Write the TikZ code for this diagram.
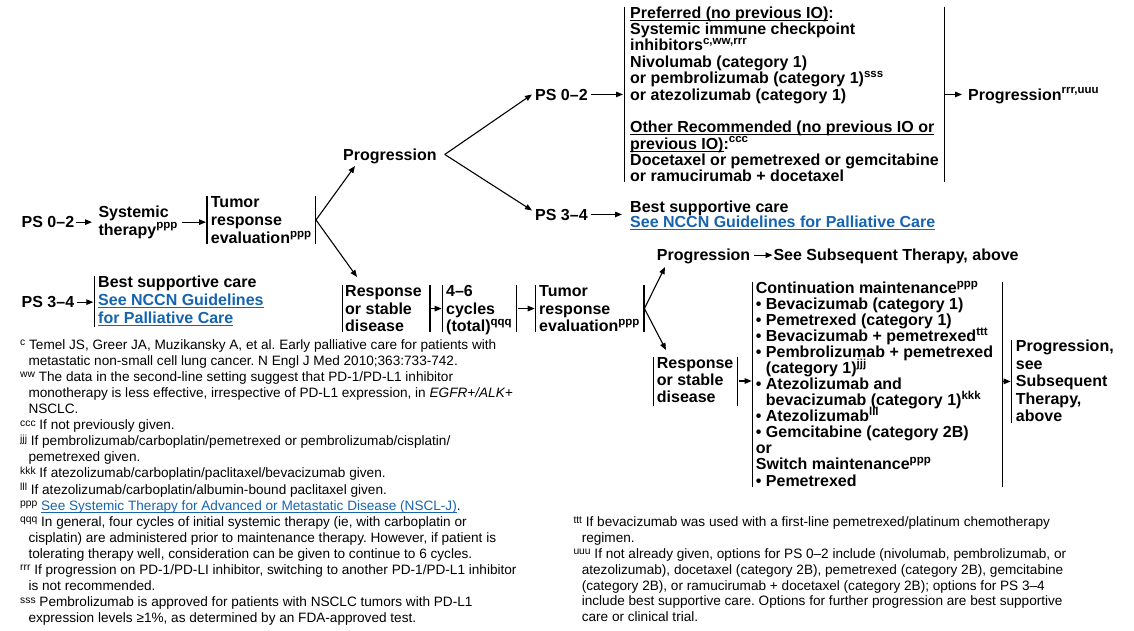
\documentclass[tikz,border=0pt]{standalone}
\usepackage{fontspec}
\setmainfont{Liberation Sans}
\usetikzlibrary{arrows.meta}
\definecolor{nccnblue}{RGB}{22,100,176}
\frenchspacing
\newcommand{\blk}[2]{\vtop{\baselineskip=#1\lineskiplimit=-100pt\lineskip=0pt\tabskip=0pt\halign{##\hfil\cr#2\crcr}}}
\newcommand{\ul}[1]{\begingroup\setbox0=\hbox{#1}\rlap{\vrule height -1.5pt depth 2.7pt width \wd0}\box0\endgroup}
\newcommand{\lnk}[1]{\textcolor{nccnblue}{\ul{#1}}}
\newcommand{\sps}[1]{\raisebox{6.3pt}[0pt][0pt]{\fontsize{11.5}{12}\selectfont #1}}
\newcommand{\fm}[1]{\raisebox{3.5pt}[0pt][0pt]{\fontsize{10.3}{10}\selectfont #1}}
\newcommand{\lbar}[2]{\draw[bar] ([xshift=-#2]#1.north west) -- ([xshift=-#2]#1.south west);}
\newcommand{\rbar}[2]{\draw[bar] ([xshift=#2]#1.north east) -- ([xshift=#2]#1.south east);}
\tikzset{
  txt/.style={inner sep=0pt, anchor=base west},
  bt/.style={txt, font=\fontsize{16}{16.1}\selectfont\bfseries, text height=11.6pt, text depth=0.5pt},
  fn/.style={txt, font=\fontsize{13.6}{16.1}\selectfont},
  bar/.style={line width=1.5pt},
  arr/.style={line width=1.1pt, -{Triangle[length=7pt,width=5.5pt]}},
}
\begin{document}
\begin{tikzpicture}[x=1pt,y=-1pt]
\fill[white] (0,0) rectangle (1134,630);
\useasboundingbox (0,0) rectangle (1134,630);

% left column
\node[bt] (ps1) at (21.5,227.7) {PS 0–2};
\node[bt, text depth=18pt] (sys) at (98.3,217.5) {\blk{17.5pt}{Systemic\cr therapy\sps{ppp}}};
\node[bt, text depth=36.9pt] (tum1) at (210.7,207.3) {\blk{18.2pt}{Tumor\cr response\cr evaluation\sps{ppp}}};
\node[bt] (ps2) at (21.5,307.7) {PS 3–4};
\node[bt, text depth=39pt] (bsc1) at (98,287.3) {\blk{18.2pt}{Best supportive care\cr \lnk{See NCCN Guidelines}\cr \lnk{for Palliative Care}}};

% progression branch
\node[bt] (prog1) at (343,160) {Progression};
\node[bt] (ps3) at (535,100) {PS 0–2};
\node[bt] (ps4) at (535,220) {PS 3–4};
\node[bt, text depth=163.9pt] (pref) at (630,18.3) {\blk{16.34pt}{\ul{Preferred (no previous IO)}:\cr
Systemic immune checkpoint\cr
inhibitors\sps{c,ww,rrr}\cr
Nivolumab (category 1)\cr
or pembrolizumab (category 1)\sps{sss}\cr
or atezolizumab (category 1)\cr
\cr
\ul{Other Recommended (no previous IO or}\cr
\ul{previous IO)}:\sps{ccc}\cr
Docetaxel or pemetrexed or gemcitabine\cr
or ramucirumab + docetaxel}};
\node[bt] (prog2) at (968,100) {Progression\sps{rrr,uuu}};
\node[bt, text depth=15.5pt] (bsc2) at (630,212.3) {\blk{15pt}{Best supportive care\cr \lnk{See NCCN Guidelines for Palliative Care}}};

% response branch
\node[bt, text depth=35.3pt] (resp1) at (345,296.7) {\blk{17.4pt}{Response\cr or stable\cr disease}};
\node[bt, text depth=35.3pt] (cyc) at (446,296.7) {\blk{17.4pt}{4–6\cr cycles\cr (total)\sps{qqq}}};
\node[bt, text depth=35.3pt] (tum2) at (539,296.7) {\blk{17.4pt}{Tumor\cr response\cr evaluation\sps{ppp}}};
\node[bt] (prog3) at (656.7,260.7) {Progression};
\node[bt] (see1) at (773.3,260.7) {See Subsequent Therapy, above};
\node[bt, text depth=37pt] (resp2) at (656.7,368.3) {\blk{17.2pt}{Response\cr or stable\cr disease}};
\node[bt, text depth=193.4pt] (cont) at (755.7,293.3) {\blk{16.06pt}{Continuation maintenance\sps{ppp}\cr
• Bevacizumab (category 1)\cr
• Pemetrexed (category 1)\cr
• Bevacizumab + pemetrexed\sps{ttt}\cr
• Pembrolizumab + pemetrexed\cr
\phantom{•\ }(category 1)\sps{jjj}\cr
• Atezolizumab and\cr
\phantom{•\ }bevacizumab (category 1)\sps{kkk}\cr
• Atezolizumab\sps{lll}\cr
• Gemcitabine (category 2B)\cr
or\cr
Switch maintenance\sps{ppp}\cr
• Pemetrexed}};
\node[bt, text depth=71pt] (prog4) at (1015.7,351.7) {\blk{17.5pt}{Progression,\cr see\cr Subsequent\cr Therapy,\cr above}};

% bars
\lbar{tum1}{3.7pt}\rbar{tum1}{4.2pt}
\lbar{bsc1}{3.7pt}
\lbar{pref}{5.7pt}\rbar{pref}{5.3pt}
\lbar{resp1}{2.3pt}\rbar{resp1}{8pt}
\lbar{cyc}{3.3pt}\rbar{cyc}{4.6pt}
\lbar{tum2}{3.3pt}\rbar{tum2}{4.3pt}
\lbar{resp2}{3.4pt}\rbar{resp2}{4pt}
\lbar{cont}{3pt}\rbar{cont}{9pt}
\lbar{prog4}{4pt}

% arrows
\draw[arr, shorten <=1.7pt, shorten >=6.3pt] (ps1.east) -- (sys.west |- ps1.east);
\draw[arr, shorten <=4pt, shorten >=4.7pt] (sys.east |- ps1.east) -- (tum1.west |- ps1.east);
\draw[arr, shorten <=2.3pt, shorten >=4.7pt] (ps2.east) -- (bsc1.west |- ps2.east);
\draw[arr] ([xshift=4.7pt]tum1.east) -- ([xshift=12pt,yshift=-6pt]prog1.base west);
\draw[arr] ([xshift=4.7pt]tum1.east) -- ([xshift=12pt,yshift=19.7pt]resp1.base west);
\draw[arr] ([xshift=8pt]prog1.east) -- ([xshift=-3pt]ps3.west);
\draw[arr] ([xshift=8pt]prog1.east) -- ([xshift=-3pt,yshift=4pt]ps4.west);
\draw[arr, shorten <=3.3pt, shorten >=7pt] (ps3.east) -- (pref.west |- ps3.east);
\draw[arr, shorten <=3pt, shorten >=8pt] (ps4.east) -- (bsc2.west |- ps4.east);
\draw[arr, shorten <=6.3pt, shorten >=6pt] (pref.east |- prog2.west) -- (prog2.west);
\draw[arr, shorten <=9pt, shorten >=4.3pt] (resp1.east) -- (cyc.west |- resp1.east);
\draw[arr, shorten <=5.6pt, shorten >=4.3pt] (cyc.east |- resp1.east) -- (tum2.west |- resp1.east);
\draw[arr] ([xshift=4.8pt]tum2.east) -- ([xshift=8.3pt,yshift=-6.3pt]prog3.base west);
\draw[arr] ([xshift=4.8pt]tum2.east) -- ([xshift=9.3pt,yshift=18.3pt]resp2.base west);
\draw[arr, shorten <=3.7pt, shorten >=0.8pt] (prog3.east) -- (see1.west);
\draw[arr, shorten <=5pt, shorten >=4pt] (resp2.east) -- (cont.west |- resp2.east);
\draw[arr, shorten <=10pt, shorten >=5pt] (cont.east |- prog4.west) -- (prog4.west);

% footnotes
\node[fn] (fnl) at (20,349.3) {\blk{16.08pt}{\fm{c} Temel JS, Greer JA, Muzikansky A, et al. Early palliative care for patients with\cr
\hspace*{8.3pt}metastatic non-small cell lung cancer. N Engl J Med 2010;363:733-742.\cr
\fm{ww} The data in the second-line setting suggest that PD-1/PD-L1 inhibitor\cr
\hspace*{8.3pt}monotherapy is less effective, irrespective of PD-L1 expression, in \textit{EGFR+/ALK+}\cr
\hspace*{8.3pt}NSCLC.\cr
\fm{ccc} If not previously given.\cr
\fm{jjj} If pembrolizumab/carboplatin/pemetrexed or pembrolizumab/cisplatin/\cr
\hspace*{8.3pt}pemetrexed given.\cr
\fm{kkk} If atezolizumab/carboplatin/paclitaxel/bevacizumab given.\cr
\fm{lll} If atezolizumab/carboplatin/albumin-bound paclitaxel given.\cr
\fm{ppp} \lnk{See Systemic Therapy for Advanced or Metastatic Disease (NSCL-J)}.\cr
\fm{qqq} In general, four cycles of initial systemic therapy (ie, with carboplatin or\cr
\hspace*{8.3pt}cisplatin) are administered prior to maintenance therapy. However, if patient is\cr
\hspace*{8.3pt}tolerating therapy well, consideration can be given to continue to 6 cycles.\cr
\fm{rrr} If progression on PD-1/PD-LI inhibitor, switching to another PD-1/PD-L1 inhibitor\cr
\hspace*{8.3pt}is not recommended.\cr
\fm{sss} Pembrolizumab is approved for patients with NSCLC tumors with PD-L1\cr
\hspace*{8.3pt}expression levels ≥1\%, as determined by an FDA-approved test.}};
\node[fn] (fnr) at (573.3,526.7) {\blk{15.83pt}{\fm{ttt} If bevacizumab was used with a first-line pemetrexed/platinum chemotherapy\cr
\hspace*{8.3pt}regimen.\cr
\fm{uuu} If not already given, options for PS 0–2 include (nivolumab, pembrolizumab, or\cr
\hspace*{8.3pt}atezolizumab), docetaxel (category 2B), pemetrexed (category 2B), gemcitabine\cr
\hspace*{8.3pt}(category 2B), or ramucirumab + docetaxel (category 2B); options for PS 3–4\cr
\hspace*{8.3pt}include best supportive care. Options for further progression are best supportive\cr
\hspace*{8.3pt}care or clinical trial.}};
\end{tikzpicture}
\end{document}
